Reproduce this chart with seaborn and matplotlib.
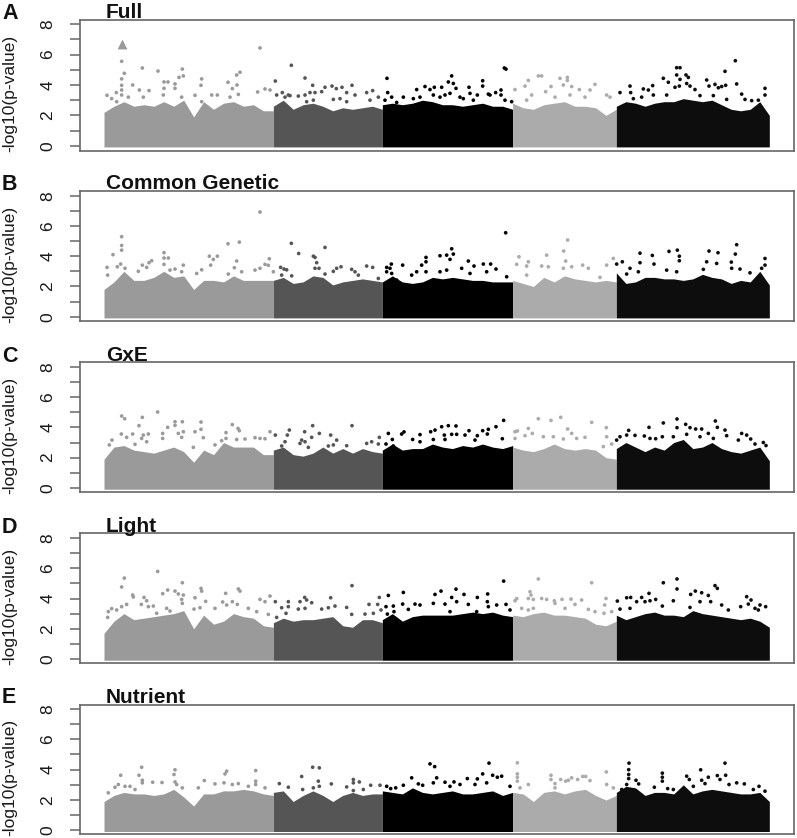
import numpy as np
import pandas as pd
import matplotlib
matplotlib.use("Agg")
import matplotlib.pyplot as plt
import seaborn as sns

sns.set_theme(style="ticks")
plt.rcParams["font.family"] = ["Liberation Sans", "DejaVu Sans"]

# genome position (arbitrary units) of the chromosome boundaries
CHROM_EDGES = [312, 820, 1147, 1538, 1849, 2308]
CHROM_NAMES = ["1", "2", "3", "4", "5"]
CHROM_COLORS = ["#9a9a9a", "#555555", "#000000", "#ababab", "#0d0d0d"]

PANEL_LETTERS = ["A", "B", "C", "D", "E"]
PANEL_TITLES = ["Full", "Common Genetic", "GxE", "Light", "Nutrient"]

# upper edge of the dense band, per chromosome
A_TOP = [
    [2.2, 2.6, 2.9, 2.6, 2.7, 2.6, 2.9, 2.6, 3.0, 1.9, 2.9, 2.4, 2.8, 2.9, 2.6, 2.7, 2.3, 2.3],
    [2.6, 3.0, 2.4, 2.7, 2.8, 2.6, 2.3, 2.5, 2.4, 2.5, 2.6, 2.4],
    [2.7, 2.8, 2.7, 2.8, 3.0, 2.9, 2.7, 2.7, 2.6, 2.7, 2.8, 2.6, 2.6, 2.4],
    [2.8, 2.5, 2.4, 2.7, 2.8, 2.9, 2.6, 2.6, 2.5, 2.0, 2.4],
    [2.6, 2.9, 2.8, 2.6, 2.8, 2.9, 2.9, 3.1, 3.0, 2.9, 3.0, 2.7, 2.4, 2.3, 2.4, 2.9, 2.0],
]
B_TOP = [
    [1.8, 2.3, 3.0, 2.4, 2.4, 2.6, 3.0, 2.6, 2.7, 1.8, 2.4, 2.4, 2.3, 2.7, 2.4, 2.4, 2.4, 2.4],
    [2.4, 2.6, 2.2, 2.3, 2.7, 2.6, 2.1, 2.3, 2.4, 2.5, 2.4, 2.3],
    [2.3, 2.7, 2.3, 2.2, 2.3, 2.6, 2.5, 2.6, 2.5, 2.4, 2.4, 2.3, 2.3, 2.3],
    [2.4, 2.2, 2.0, 2.6, 2.3, 2.7, 2.5, 2.4, 2.3, 2.4, 2.3],
    [2.9, 2.2, 2.3, 2.6, 2.6, 2.5, 2.5, 2.4, 2.5, 2.8, 2.6, 2.5, 2.2, 2.4, 2.3, 3.0, 2.1],
]
C_TOP = [
    [1.9, 2.7, 2.8, 2.5, 2.4, 2.3, 2.5, 2.7, 2.4, 1.7, 2.5, 2.2, 3.0, 2.7, 2.7, 2.7, 2.2, 2.2],
    [2.5, 2.7, 2.2, 2.1, 2.3, 2.7, 2.3, 2.6, 2.3, 2.6, 2.4, 2.3],
    [2.5, 2.9, 2.5, 2.6, 2.6, 2.9, 2.7, 2.6, 2.8, 2.7, 2.9, 2.7, 2.6, 2.8],
    [2.7, 2.5, 2.4, 2.6, 2.9, 2.6, 2.5, 2.6, 2.5, 2.0, 1.9],
    [2.6, 3.0, 2.7, 2.4, 2.7, 2.5, 3.0, 3.2, 2.6, 2.7, 3.0, 2.6, 2.4, 2.3, 2.5, 2.7, 1.8],
]
D_TOP = [
    [1.7, 2.5, 3.0, 2.6, 2.7, 2.8, 2.9, 3.0, 3.2, 2.0, 2.9, 2.3, 2.5, 3.0, 2.8, 2.7, 2.2, 2.1],
    [2.4, 2.7, 2.5, 2.6, 2.6, 2.7, 2.8, 2.2, 2.1, 2.6, 2.6, 2.4],
    [2.6, 3.0, 2.5, 2.8, 2.9, 2.9, 2.9, 2.9, 3.0, 3.1, 3.0, 3.1, 2.9, 2.8],
    [2.9, 2.8, 3.0, 3.1, 2.9, 2.9, 2.8, 2.7, 2.3, 2.2, 2.5],
    [2.9, 2.6, 2.8, 3.0, 3.1, 2.9, 2.9, 2.8, 3.2, 3.0, 2.9, 2.8, 2.7, 2.6, 2.7, 2.5, 2.1],
]
E_TOP = [
    [1.9, 2.3, 2.5, 2.4, 2.4, 2.3, 2.4, 2.7, 2.2, 1.6, 2.4, 2.4, 2.6, 2.6, 2.7, 2.6, 2.4, 2.3],
    [2.5, 2.6, 1.9, 2.3, 2.6, 2.3, 1.9, 2.3, 2.5, 2.3, 2.4, 2.4],
    [2.6, 2.5, 2.4, 2.8, 2.5, 2.4, 2.5, 2.6, 2.4, 2.4, 2.5, 2.6, 2.3, 2.5],
    [2.5, 2.4, 1.9, 2.5, 2.6, 2.4, 2.6, 2.7, 2.3, 2.0, 2.3],
    [2.5, 2.9, 2.8, 2.3, 2.5, 2.5, 2.4, 3.0, 2.4, 2.6, 2.7, 2.6, 2.5, 2.4, 2.4, 2.5, 1.9],
]

# individual SNPs standing above the band
A_X = [365, 373, 427, 474, 547, 550, 537, 525, 492, 504, 398, 365, 365, 365, 365, 321, 349, 335, 418, 447, 492, 525,
       605, 603, 585, 635, 652, 684, 710, 720, 711, 697, 780, 773, 795, 810, 690, 715, 430, 490, 385, 545, 605, 350,
       826, 874, 915, 938, 975, 996, 1009, 1026, 1056, 1040, 1065, 1100, 1118, 847, 865, 830, 855, 870, 895, 915, 930,
       945, 965, 1000, 1020, 1040, 940, 920, 1135, 1110, 1161, 1163, 1175, 1155, 1190,
       1210, 1250, 1275, 1303, 1325, 1355, 1345, 1360, 1368, 1407, 1448, 1448, 1513, 1518, 1465, 1487, 1503, 1503, 1432,
       1290, 1300, 1335, 1260, 1380, 1410, 1240, 1350, 1320, 1390, 1420, 1470, 1515, 1535,
       1545, 1585, 1615, 1625, 1575, 1680, 1702, 1702, 1690, 1715, 1653, 1738, 1785, 1770, 1637, 1595, 1580, 1665, 1710,
       1755, 1820, 1830,
       1860, 1890, 1892, 1930, 1945, 1958, 1990, 2005, 2030, 2040, 2030, 2058, 2065, 2040, 2060, 2025, 2038, 2070, 2120,
       2145, 2155, 2165, 2177, 2175, 2206, 2210, 2127, 2085, 2225, 2235, 2255, 2275, 2180, 1900, 1925, 1960, 2000, 2100,
       2140, 2295, 2295]
A_Y = [5.56, 4.77, 5.12, 4.92, 5.05, 4.6, 4.5, 4.07, 4.2, 4.2, 4.0, 4.4, 3.98, 3.67, 3.34, 3.32, 3.5, 3.1, 3.67, 3.63, 3.78, 3.78,
       4.4, 3.98, 3.32, 3.34, 3.34, 4.18, 4.66, 4.84, 4.0, 3.76, 6.44, 3.54, 3.74, 3.67, 3.2, 3.38, 3.2, 3.34, 3.2, 3.2, 2.9, 2.9,
       4.26, 5.3, 4.46, 3.98, 3.85, 3.93, 3.76, 3.85, 3.98, 3.5, 3.34, 3.5, 3.63, 3.5, 3.34, 3.34, 3.2, 3.3, 3.27, 3.34, 3.5,
       3.5, 3.56, 3.05, 3.1, 2.9, 3.0, 2.9, 3.2, 3.0, 4.44, 3.5, 3.2, 3.0, 2.85,
       3.2, 3.7, 3.9, 3.85, 3.85, 4.6, 4.2, 4.1, 3.78, 3.85, 4.28, 3.93, 5.12, 5.05, 3.4, 3.5, 3.67, 3.34, 3.34,
       3.7, 3.34, 3.34, 3.2, 3.2, 3.45, 3.1, 3.45, 3.2, 3.1, 3.0, 3.34, 3.0, 2.9,
       3.7, 4.3, 4.6, 4.6, 3.93, 4.44, 4.5, 4.3, 4.0, 3.9, 3.9, 3.7, 4.04, 3.67, 3.56, 3.34, 3.0, 3.2, 3.34,
       3.2, 3.34, 3.2,
       3.5, 3.93, 3.5, 3.74, 3.67, 3.96, 4.44, 4.18, 5.14, 5.14, 4.66, 4.66, 4.5, 4.37, 4.1, 3.85, 3.93, 3.93, 4.33,
       4.04, 3.82, 3.9, 3.98, 4.9, 5.6, 4.07, 3.93, 3.7, 3.4, 3.05, 2.97, 3.0, 3.05, 3.1, 3.2, 3.34, 3.34, 3.3,
       3.3, 3.78, 3.34]

B_X = [365, 365, 365, 339, 321, 323, 352, 362, 375, 427, 440, 447, 455, 415, 492, 492, 505, 492, 525, 550, 545, 510,
       628, 640, 652, 632, 605, 590, 684, 718, 710, 703, 780, 808, 795, 780, 765, 725, 685, 805, 820,
       874, 896, 940, 945, 950, 975, 945, 957, 842, 852, 860, 845, 875, 1000, 1010, 1023, 1055, 1100, 1118, 1065, 975,
       1135, 1075, 1174, 1160, 1170, 1160, 1175, 1190,
       1208, 1235, 1250, 1265, 1278, 1278, 1278, 1320, 1355, 1360, 1340, 1350, 1405, 1422, 1450, 1472, 1488, 1460, 1517,
       1520, 1340, 1385, 1410, 1320,
       1557, 1550, 1585, 1580, 1640, 1625, 1645, 1703, 1691, 1697, 1690, 1715, 1748, 1765, 1840, 1820, 1850, 1580, 1800,
       1867, 1890, 1920, 1957, 1920, 1962, 2007, 2032, 2038, 2038, 2030, 2127, 2154, 2120, 2150, 2194, 2210, 2206, 2195,
       2220, 2250, 2295, 2295, 2285, 2110, 2000, 1880, 1915]
B_Y = [5.29, 4.71, 4.4, 4.1, 3.26, 2.75, 3.3, 3.48, 3.2, 3.41, 3.26, 3.57, 3.7, 3.0, 4.23, 3.88, 3.88, 3.46, 3.15, 3.41, 2.97, 3.08,
       4.0, 3.79, 4.0, 3.41, 3.1, 2.86, 4.82, 4.93, 3.68, 3.24, 6.92, 3.83, 3.46, 3.2, 3.08, 2.97, 2.82, 3.4, 2.97,
       4.85, 4.18, 4.0, 3.92, 3.57, 4.58, 3.2, 3.2, 3.26, 3.15, 3.1, 2.75, 2.7, 3.0, 3.2, 3.3, 3.13, 3.35, 3.26, 2.97, 2.82,
       2.53, 2.75, 3.48, 3.26, 3.2, 2.97, 2.86, 2.42,
       3.41, 2.75, 2.97, 3.41, 3.92, 3.63, 2.97, 4.03, 4.49, 4.14, 4.07, 3.79, 3.68, 3.35, 3.48, 3.48, 3.15, 2.97, 5.55,
       2.64, 3.08, 3.2, 2.86, 2.97,
       3.96, 3.46, 3.63, 3.35, 4.07, 3.35, 3.3, 5.07, 4.34, 3.68, 3.2, 3.3, 3.41, 3.2, 3.85, 3.41, 3.48, 2.75, 2.6,
       3.63, 3.2, 4.2, 4.05, 3.57, 3.48, 4.32, 4.4, 4.0, 3.7, 2.97, 4.34, 4.23, 3.63, 3.52, 3.61, 4.76, 4.14, 3.2,
       3.15, 2.9, 3.85, 3.41, 3.2, 3.13, 3.08, 2.82, 2.97]

C_X = [473, 365, 374, 427, 417, 364, 398, 380, 336, 328, 503, 525, 525, 547, 488, 488, 535, 550, 545, 430, 445, 425,
       440, 405, 603, 603, 585, 610, 580, 645, 697, 714, 718, 678, 678, 735, 765, 780, 795, 810, 710, 665,
       826, 868, 862, 914, 938, 958, 992, 1056, 935, 905, 915, 900, 925, 855, 1010, 1000, 1040, 1100, 1115, 1138, 1135,
       845, 985, 1165, 1177, 1158, 1180,
       1212, 1205, 1260, 1238, 1305, 1292, 1325, 1345, 1368, 1333, 1335, 1355, 1370, 1407, 1395, 1432, 1448, 1465, 1462,
       1488, 1511, 1507, 1425, 1300, 1260,
       1545, 1552, 1545, 1575, 1585, 1597, 1615, 1653, 1682, 1703, 1715, 1775, 1819, 1630, 1660, 1690, 1730, 1755, 1820,
       1835, 1850, 1810,
       1886, 1860, 1880, 1905, 1947, 1933, 1967, 1990, 1987, 2031, 2031, 2057, 2070, 2087, 2105, 2060, 2125, 2146, 2152,
       2175, 2180, 2140, 2225, 2240, 2252, 2215, 2290, 2298, 2265, 2020, 2100, 1950]
C_Y = [5.01, 4.75, 4.57, 4.66, 4.11, 3.56, 3.56, 3.34, 3.16, 2.84, 4.0, 4.37, 4.13, 4.37, 3.6, 3.27, 3.6, 3.71, 3.34, 3.49, 3.56, 3.27,
       3.05, 2.88, 4.35, 3.87, 3.71, 3.32, 2.68, 2.84, 4.18, 3.93, 3.78, 3.65, 3.27, 3.23, 3.32, 3.27, 3.25, 3.71, 3.2, 3.12,
       3.49, 3.82, 3.49, 3.71, 4.11, 3.6, 3.49, 4.11, 3.34, 3.16, 3.05, 2.94, 2.68, 3.05, 3.16, 2.84, 2.79, 2.94, 3.05, 3.34, 2.9,
       2.77, 2.77, 3.6, 3.2, 2.9, 2.77,
       3.7, 3.56, 3.52, 3.2, 3.82, 3.71, 4.04, 4.11, 4.09, 3.49, 3.2, 3.54, 3.54, 3.78, 3.49, 3.45, 3.78, 3.87, 3.56,
       4.04, 4.46, 3.25, 3.16, 3.2, 3.05,
       3.71, 3.76, 3.27, 3.45, 3.93, 3.6, 4.57, 4.46, 4.66, 3.89, 3.6, 4.33, 3.98, 3.38, 3.38, 3.23, 3.27, 3.34, 3.38,
       2.9, 3.16, 2.73,
       3.8, 3.38, 3.49, 3.47, 4.0, 3.43, 3.25, 4.29, 3.38, 4.55, 3.98, 4.2, 3.98, 3.89, 3.89, 3.54, 3.6, 4.42, 4.0,
       3.82, 3.45, 3.27, 3.6, 3.49, 3.23, 3.16, 3.0, 2.8, 2.9, 3.38, 3.38, 3.27]

D_X = [473, 373, 365, 398, 400, 432, 440, 424, 445, 460, 380, 365, 335, 325, 350, 323, 488, 503, 525, 535, 547, 550,
       545, 547, 500, 510, 470, 603, 605, 585, 617, 645, 600, 582, 677, 715, 720, 668, 697, 712, 680, 780, 795, 810,
       805, 745, 770,
       826, 865, 845, 865, 858, 914, 900, 920, 935, 895, 915, 992, 1056, 1005, 985, 965, 1040, 1107, 1138, 1133, 1143,
       1055, 1095, 1120, 830, 1165, 1158, 1180, 1182, 1162,
       1210, 1208, 1225, 1260, 1245, 1305, 1323, 1300, 1368, 1355, 1370, 1335, 1392, 1432, 1463, 1462, 1465, 1405, 1511,
       1490, 1518, 1530, 1430, 1350,
       1550, 1545, 1590, 1593, 1585, 1600, 1615, 1625, 1640, 1663, 1665, 1686, 1713, 1725, 1745, 1775, 1818, 1814, 1852,
       1835, 1812, 1565, 1585, 1600, 1695, 1765, 1785,
       1880, 1892, 1860, 1890, 1910, 1925, 1935, 1947, 1950, 1967, 1990, 1987, 2031, 2031, 2020, 2072, 2086, 2105, 2125,
       2145, 2152, 2100, 2132, 2070, 2165, 2185, 2240, 2253, 2245, 2222, 2280, 2297, 2275, 2265]
D_Y = [5.79, 5.35, 4.76, 4.23, 4.1, 4.07, 3.85, 3.61, 3.46, 3.5, 3.61, 3.46, 3.33, 3.13, 3.24, 2.75, 4.32, 4.56, 4.49, 4.3, 5.04, 4.23,
       3.94, 3.68, 3.35, 3.17, 3.02, 4.67, 4.49, 4.05, 3.81, 3.35, 3.39, 3.3, 4.34, 4.63, 4.49, 3.77, 3.79, 3.61, 3.57, 3.94, 3.79, 4.16,
       2.95, 3.35, 3.13,
       3.79, 3.79, 3.39, 3.46, 3.02, 4.07, 3.79, 3.9, 3.72, 3.3, 3.35, 4.05, 4.85, 3.5, 3.39, 3.3, 3.41, 3.61, 4.07, 3.61, 3.24,
       2.95, 2.97, 3.02, 2.75, 4.2, 3.46, 3.5, 3.13, 2.97,
       4.4, 3.63, 3.28, 3.57, 3.63, 4.27, 4.49, 3.68, 4.62, 4.07, 3.79, 3.63, 4.27, 4.07, 4.3, 3.79, 3.46, 3.61, 5.15,
       3.57, 3.61, 3.24, 3.13, 3.13,
       3.99, 3.85, 4.45, 4.23, 4.0, 3.94, 5.29, 4.0, 3.94, 3.85, 3.68, 3.94, 3.96, 3.61, 3.9, 5.04, 4.0, 3.57, 3.83,
       3.13, 3.02, 3.35, 3.24, 3.35, 3.35, 3.28, 3.13,
       4.05, 4.07, 3.3, 3.35, 3.79, 4.07, 3.79, 4.34, 3.85, 3.94, 5.04, 3.5, 5.29, 4.63, 3.85, 4.27, 4.49, 4.38, 4.2,
       4.85, 4.67, 3.79, 3.79, 3.41, 3.57, 3.24, 4.12, 3.9, 3.63, 3.46, 3.57, 3.46, 3.24, 3.35]

E_X = [425, 362, 417, 427, 427, 345, 355, 375, 390, 405, 458, 486, 525, 522, 525, 530, 547, 325, 613, 595, 645, 672,
       680, 675, 767, 767, 767, 697, 715, 745, 795,
       838, 865, 905, 938, 958, 955, 958, 940, 908, 994, 1060, 1060, 1078, 1040, 1112, 1140, 1090, 1060, 1160, 1172, 1187,
       1235, 1210, 1255, 1268, 1290, 1304, 1310, 1300, 1335, 1362, 1380, 1350, 1402, 1432, 1448, 1467, 1478, 1492, 1505,
       1460, 1530, 1425,
       1552, 1552, 1552, 1552, 1585, 1560, 1653, 1653, 1665, 1682, 1697, 1715, 1705, 1733, 1748, 1757, 1770, 1819, 1820,
       1840, 1665,
       1887, 1886, 1886, 1886, 1908, 1916, 1865, 1880, 1963, 1987, 1987, 1987, 2003, 2060, 2068, 2102, 2105, 2125, 2152,
       2175, 2177, 2160, 2187, 2115, 2210, 2233, 2277, 2260, 2295, 2020, 2080]
E_Y = [4.16, 3.63, 3.63, 3.3, 3.13, 2.84, 3.02, 2.9, 2.9, 2.69, 3.17, 3.15, 3.99, 3.68, 3.19, 3.02, 2.8, 2.47, 3.28, 2.8, 3.06, 3.13,
       3.9, 3.72, 3.94, 3.24, 3.02, 3.02, 3.08, 2.9, 2.8,
       3.08, 2.84, 3.55, 4.16, 4.12, 3.24, 2.9, 2.8, 2.69, 3.06, 3.35, 3.13, 3.19, 2.86, 2.97, 2.97, 2.69, 2.62, 2.9, 2.75, 2.8,
       3.46, 2.97, 3.06, 2.97, 4.38, 4.2, 3.46, 3.13, 3.17, 3.19, 3.02, 2.9, 3.41, 3.39, 3.72, 4.43, 3.63, 3.5, 3.57,
       3.13, 2.9, 3.02,
       4.45, 3.72, 3.5, 3.24, 3.02, 2.8, 3.63, 3.35, 3.08, 3.35, 3.24, 3.46, 3.3, 3.35, 3.55, 3.55, 3.28, 3.85, 3.02,
       2.8, 2.8,
       4.43, 4.0, 3.68, 3.41, 3.3, 3.06, 2.69, 3.02, 2.84, 3.77, 3.5, 3.24, 2.75, 3.57, 3.35, 3.99, 3.3, 3.5, 3.61,
       4.43, 3.63, 3.35, 3.02, 3.08, 3.13, 3.06, 2.9, 2.69, 2.58, 2.69, 2.9]

# the triangle in panel A marks the top hit
TOP_HIT_X = [366]
TOP_HIT_Y = [6.7]

PANEL_TOPS = [A_TOP, B_TOP, C_TOP, D_TOP, E_TOP]
PANEL_XS = [A_X, B_X, C_X, D_X, E_X]
PANEL_YS = [A_Y, B_Y, C_Y, D_Y, E_Y]

W, H = 797, 838
# layout in pixels: axes top, axes bottom, row of y=0, row of y=8
LAYOUT = [(20.0, 150.7, 145.7, 24.3), (191.3, 321.0, 316.7, 195.7), (362.3, 492.3, 488.0, 366.7),
          (533.3, 663.3, 659.0, 538.0), (704.7, 833.7, 830.3, 709.0)]
AX_L, AX_R = 80, 794
TITLE_BASE = [18, 189, 361, 532, 703]
LETTER_BASE = [19, 190, 362, 533, 703]
LETTER_X = [2, 2, 2, 2, 2]
SPINE = "#666666"

fig = plt.figure(figsize=(W / 100, H / 100), dpi=100, facecolor="white")
for i in range(5):
    t, b, y0, y8 = LAYOUT[i]
    ax = fig.add_axes([AX_L / W, 1 - b / H, (AX_R - AX_L) / W, (b - t) / H])
    ppu = (y0 - y8) / 8
    ax.set_ylim((y0 - b) / ppu, (y0 - t) / ppu)
    ax.set_xlim(240, 2382)

    for c in range(5):
        top = PANEL_TOPS[i][c]
        xs = np.linspace(CHROM_EDGES[c], CHROM_EDGES[c + 1], len(top))
        ax.fill_between(xs, -0.08, top, color=CHROM_COLORS[c], linewidth=0, zorder=2)

    df = pd.DataFrame({"pos": PANEL_XS[i], "logp": PANEL_YS[i]})
    df["chrom"] = [CHROM_NAMES[min(int(np.searchsorted(CHROM_EDGES, p)) - 1, 4)] for p in df["pos"]]
    sns.scatterplot(data=df, x="pos", y="logp", hue="chrom", hue_order=CHROM_NAMES,
                    palette=CHROM_COLORS, s=7, linewidth=0, legend=False, ax=ax, zorder=3)
    if i == 0:
        sns.scatterplot(x=TOP_HIT_X, y=TOP_HIT_Y, marker="^", s=50, color="#999999",
                        linewidth=0, legend=False, ax=ax, zorder=3)

    ax.set_xticks([])
    ax.set_xlabel("")
    ax.set_ylabel("")
    ax.set_yticks(range(0, 9))
    ax.set_yticklabels(["0", "", "2", "", "4", "", "6", "", "8"], rotation=90, va="center", fontsize=12.5, color="#1a1a1a")
    ax.tick_params(axis="y", length=7.2, width=1.1, color=SPINE, pad=10.5)
    for s in ax.spines.values():
        s.set_visible(True)
        s.set_color(SPINE)
        s.set_linewidth(1.2)

    fig.text(10 / W, 1 - (y0 - 52.7) / H, "-log10(p-value)", rotation=90, ha="center", va="center",
             fontsize=12.5, color="#1a1a1a")
    fig.text(106 / W, 1 - TITLE_BASE[i] / H, PANEL_TITLES[i], fontsize=15, fontweight="bold",
             color="#111111", va="baseline", ha="left", zorder=10)
    fig.text(LETTER_X[i] / W, 1 - LETTER_BASE[i] / H, PANEL_LETTERS[i], fontsize=15.5, fontweight="bold",
             color="#111111", va="baseline", ha="left")

fig.savefig("out.png", dpi=100, facecolor="white")
